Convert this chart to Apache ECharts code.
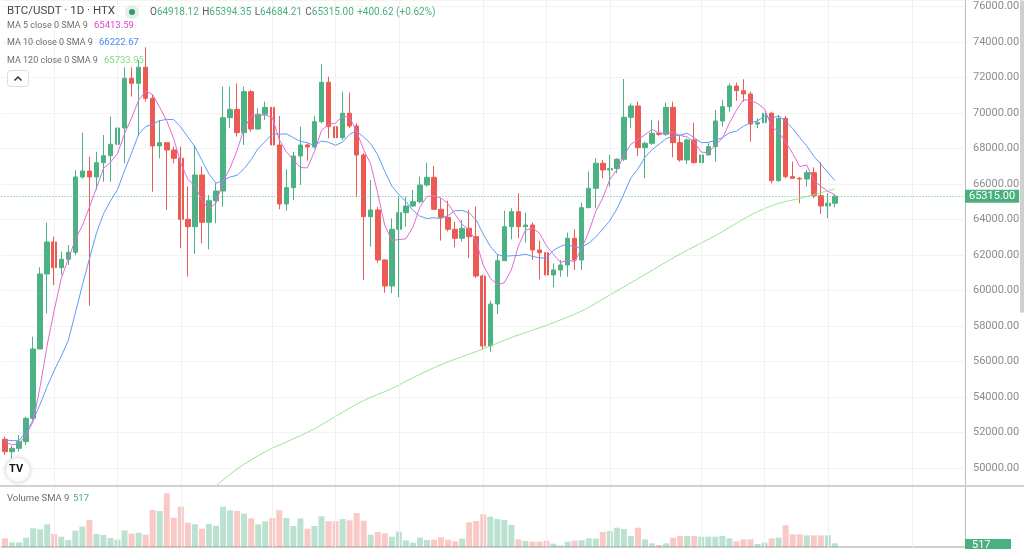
<!DOCTYPE html>
<html><head><meta charset="utf-8">
<script src="https://cdn.jsdelivr.net/npm/echarts@6/dist/echarts.min.js"></script>
<style>html,body{margin:0;padding:0;background:#fff;overflow:hidden}#c{width:1024px;height:549px}</style>
</head><body><div id="c"></div><script>
// ---- data (BTC/USDT 1D, HTX) ----
const startDate = [2024, 1, 23];           // first candle (Feb 23 2024)
const slotCount = 137;                     // candles + empty right margin slots
const opens = [51617,50918,51110,51482,52800,56705,60930,62733,61285,61758,
62152,66395,66733,66395,67200,67595,68237,69156,71955,71673,
72576,70829,68142,68330,67917,67449,64012,63595,66508,63842,
65060,65606,69736,70208,68891,71201,69100,69927,70320,68198,
64874,65792,67578,68198,68086,69512,71730,69229,68610,69986,
69269,67635,64158,64536,61719,60254,63448,64384,64761,65004,
65943,66378,64575,64124,63448,62941,63505,63033,60817,56874,
59240,61680,63595,64440,63595,63690,62283,62130,60874,61155,
61437,62941,61719,64666,65755,67167,66790,66870,67393,69760,
70396,68048,68293,68855,68800,70320,68330,67353,68480,67202,
67635,68104,69550,70358,71521,71257,71070,69380,69450,69986,
66189,69700,66414,66320,66282,66640,65342,64761,64918.12];
const highs = [51764,51240,51860,52890,57398,61308,63820,63030,62187,62564,
66790,68891,67540,67820,68760,69794,69794,72576,72576,72990,
73703,71014,69606,68330,68100,68100,65849,68198,66978,65380,
66040,71483,71483,71670,71483,71290,70265,70640,71336,69832,
66828,67820,69229,68290,69832,72745,72046,69420,71201,71160,
69420,67730,66226,64722,61750,64065,65324,65286,65662,66412,
67201,67014,65195,65060,63880,63975,64536,64722,60900,59425,
62057,64497,64630,65477,64384,63820,62810,63448,61530,61719,
63260,63448,64948,66700,67450,67350,67635,67450,71916,70547,
70640,68386,69606,69567,70584,70640,68761,68574,69455,67917,
68293,70170,70733,71670,71708,71898,71200,69700,70075,70075,
69887,69830,67257,66400,66790,66940,67223,65477,65394.35];
const lows = [50732,50546,50918,51296,52700,56705,58716,60310,60873,61437,
62000,66300,59145,65660,66130,66130,67240,67167,70920,68700,
70637,65567,67449,64536,67167,62378,60778,62057,62659,62320,
63786,64722,69138,68672,68198,68955,69042,69606,68100,64575,
64500,65100,65943,67310,68010,69420,68574,67540,68480,69138,
65286,60592,62470,61567,59876,59843,59617,63595,64700,64912,
65850,64536,62810,63335,62434,62752,61815,60700,56648,56550,
58676,61680,62885,62941,62697,61719,60630,60780,60180,60780,
60780,61155,61155,64630,64630,66320,65850,66600,67300,69138,
67578,66320,68198,68705,68700,67505,67260,67130,67165,66640,
67635,67260,69230,70075,70690,70637,68385,69138,69229,66038,
66130,66320,66320,64910,65850,65195,64310,64068,64684.21];
const closes = [50918,51110,51482,52800,56705,60930,62733,61285,61758,62152,
66395,66733,66395,67200,67595,68237,69156,71955,71673,72576,
70829,68142,68330,67917,67449,64012,63595,66508,63842,65060,
65606,69736,70208,68891,71201,69100,69927,70320,68198,64874,
65792,67578,68198,68086,69512,71730,69229,68610,69986,69269,
67635,64158,64536,61719,60254,63448,64384,64761,65004,65943,
66378,64575,64124,63448,62941,63505,63033,60817,56874,59240,
61680,63595,64440,63595,63690,62283,62130,60874,61155,61437,
62941,61719,64666,65755,67167,66790,66870,67393,69760,70396,
68048,68293,68855,68800,70320,68330,67353,68480,67202,67635,
68104,69550,70358,71521,71257,71070,69380,69450,69986,66189,
69700,66414,66320,66282,66640,65342,64761,64918.12,65315.00];
const volumes = [348,188,188,372,748,708,908,520,412,280,
652,812,1080,520,480,360,292,668,532,572,
492,1480,1440,2148,1172,1612,972,908,732,920,
852,1612,1468,1440,1332,1148,908,1028,1160,1468,
1160,840,1148,732,840,1228,1028,1028,1120,1068,
1360,1052,492,600,548,412,612,268,172,372,
280,292,388,292,228,332,988,1040,1308,1212,
1120,1080,880,308,240,212,212,252,132,60,
212,252,268,348,332,600,640,772,720,440,
772,308,148,80,148,372,440,440,440,412,
412,412,440,348,228,308,308,120,172,348,
372,868,508,508,468,468,468,468,148];
const ma5Read  = [51482,51296,51390,51860];
const ma10Read = [51577,51540,51540,52047,52700,53600,54600,55500,56300];
// MA 120 (history off-screen) at these candle indices
const ma120Idx = [30,33,37,40,44,48,51,55,58,62,65,68,72,77,82,86,91,96,101,105,107,110,113,116,118];
const ma120Val = [48986,49944,50918,51465,52209,53138,53803,54479,55088,55825,56276,56705,57352,58040,58845,59747,60902,62057,63088,64023,64446,64908,65189,65511,65733.95];
// header texts
const header = {sym:'BTC/USDT · 1D · HTX', o:'64918.12', h:'65394.35', l:'64684.21', c:'65315.00', chg:'+400.62 (+0.62%)'};
const legendLabels = ['MA 5 close 0 SMA 9','MA 10 close 0 SMA 9','MA 120 close 0 SMA 9'];
const legendValues = ['65413.59','66222.67','65733.95'];
const volLabel = 'Volume SMA 9', volSma = '517';
const gridDays = ['01','10','19'];

// ---- build ----
const pad = n => (n<10?'0':'')+n;
const dates = [];
for (let i=0;i<slotCount;i++){const d=new Date(Date.UTC(startDate[0],startDate[1],startDate[2]+i));dates.push(d.getUTCFullYear()+'-'+pad(d.getUTCMonth()+1)+'-'+pad(d.getUTCDate()));}
const n = closes.length;
const ohlc = closes.map((c,i)=>[opens[i],c,lows[i],highs[i]]);
function sma(len, early){return closes.map((c,i)=>{if(i<len-1) return early[i]; let s=0; for(let k=i-len+1;k<=i;k++) s+=closes[k]; return +(s/len).toFixed(2);});}
const ma5 = sma(5, ma5Read), ma10 = sma(10, ma10Read);
const ma120 = ma120Idx.map((k,j)=>[dates[k], ma120Val[j]]);
const UP='#4db283', DOWN='#ec5b53';
const volData = volumes.map((v,i)=>({value:v,itemStyle:{color: closes[i]>=opens[i] ? 'rgba(77,178,131,0.38)' : 'rgba(236,91,83,0.33)'}}));
const vLines = dates.filter(d=>gridDays.includes(d.slice(8))).map(d=>({xAxis:d}));
const FONT = 'Roboto, "Noto Sans", sans-serif';
const GRAY = '#6d6d6d', GREEN='#4caf7f';
const maColors = ['#de44c8','#4b89f2','#7fdc7f'];
const valueLeft = [94,99,104], rowTop = [21,38,56];

const chart = echarts.init(document.getElementById('c'), null, {renderer:'canvas'});
const emptyLine = dates.map(()=>null);
const legendGraphics = [];
legendLabels.forEach((t,i)=>{
  legendGraphics.push({type:'text',left:7,top:rowTop[i],z:20,style:{text:t,fill:GRAY,fontSize:9,fontFamily:FONT}});
  legendGraphics.push({type:'text',left:valueLeft[i],top:rowTop[i],z:20,style:{text:legendValues[i],fill:maColors[i],fontSize:9.5,fontFamily:FONT}});
});
chart.setOption({
  animation:false,
  backgroundColor:'#ffffff',
  textStyle:{fontFamily:FONT},
  grid:[{left:1.5,right:59,top:0,height:486},{left:1.5,right:59,top:486,height:61}],
  xAxis:[
    {type:'category',gridIndex:0,data:dates,boundaryGap:true,axisLine:{show:false},axisTick:{show:false},axisLabel:{show:false},splitLine:{show:false}},
    {type:'category',gridIndex:1,data:dates,boundaryGap:true,axisLine:{show:true,lineStyle:{color:'#cfcfcf',width:2}},axisTick:{show:false},axisLabel:{show:false},splitLine:{show:false}}
  ],
  yAxis:[
    {type:'value',gridIndex:0,position:'right',min:48986,max:76366,splitNumber:14,minInterval:2000,maxInterval:2000,scale:true,
     axisLine:{show:true,lineStyle:{color:'#bdbdbd'}},axisTick:{show:false},
     axisLabel:{color:'#8c8c8c',fontSize:11,margin:8,showMinLabel:false,showMaxLabel:false,formatter:v=>v.toFixed(2),fontFamily:FONT},
     splitLine:{show:true,lineStyle:{color:'#f3f3f3'}}},
    {type:'value',gridIndex:1,position:'right',min:0,max:2440,axisLine:{show:true,lineStyle:{color:'#bdbdbd'}},axisTick:{show:false},axisLabel:{show:false},splitLine:{show:false}}
  ],
  series:[
    {type:'line',xAxisIndex:0,yAxisIndex:0,data:emptyLine,z:1,silent:true,symbol:'none',
     markLine:{silent:true,symbol:'none',label:{show:false},lineStyle:{color:'#f1f1f3',type:'solid',width:1},data:vLines,animation:false}},
    {type:'line',xAxisIndex:1,yAxisIndex:1,data:emptyLine,z:1,silent:true,symbol:'none',
     markLine:{silent:true,symbol:'none',label:{show:false},lineStyle:{color:'#f1f1f3',type:'solid',width:1},data:vLines,animation:false}},
    {type:'bar',xAxisIndex:1,yAxisIndex:1,data:volData,barWidth:6,z:2,silent:true},
    {type:'candlestick',xAxisIndex:0,yAxisIndex:0,data:ohlc,barWidth:5,z:3,
     itemStyle:{color:UP,color0:DOWN,borderColor:UP,borderColor0:DOWN,borderWidth:1},
     markLine:{silent:true,symbol:'none',animation:false,
       data:[{yAxis:closes[n-1],lineStyle:{color:'#5cbf90',type:[1,2],width:1},
         label:{show:true,position:'end',distance:0,formatter:()=>closes[n-1].toFixed(2),color:'#fff',backgroundColor:GREEN,
           padding:[1,4,1,4],fontSize:11,fontFamily:FONT}}]}},
    {type:'line',xAxisIndex:0,yAxisIndex:0,data:ma120,symbol:'none',smooth:0.3,connectNulls:true,z:4,lineStyle:{color:'#98e498',width:1},silent:true},
    {type:'line',xAxisIndex:0,yAxisIndex:0,data:ma10,symbol:'none',z:5,lineStyle:{color:'#5f9cf6',width:1},silent:true},
    {type:'line',xAxisIndex:0,yAxisIndex:0,data:ma5,symbol:'none',z:6,lineStyle:{color:'#e46ad6',width:1},silent:true}
  ],
  graphic:[
    {type:'text',left:7,top:5,z:20,style:{text:header.sym,fontSize:11.5,fill:'#464646',fontFamily:FONT}},
    {type:'circle',shape:{cx:132,cy:12,r:7},style:{fill:'#dff1e8'},z:20},
    {type:'circle',shape:{cx:132,cy:12,r:3},style:{fill:'#2e9b6a'},z:21},
    {type:'text',left:150,top:6,z:20,style:{
      text:'{l|O}{v|'+header.o+'} {l|H}{v|'+header.h+'} {l|L}{v|'+header.l+'} {l|C}{v|'+header.c+'} {v|'+header.chg+'}',
      rich:{l:{fill:'#5a5a5a',fontSize:10,fontFamily:FONT},v:{fill:GREEN,fontSize:10,fontFamily:FONT}}}},
    ...legendGraphics,
    {type:'rect',shape:{x:7.5,y:70.5,width:21,height:16,r:3},style:{fill:'#fff',stroke:'#dedede',lineWidth:1},z:20},
    {type:'polyline',shape:{points:[[14.5,80.5],[18,77],[21.5,80.5]]},style:{stroke:'#333',lineWidth:1.5,fill:null},z:21},
    {type:'circle',shape:{cx:18,cy:470,r:12.5},style:{fill:'#fff',stroke:'#e6e6e6',lineWidth:1,shadowBlur:4,shadowColor:'rgba(0,0,0,0.12)'},z:20},
    {type:'text',left:9,top:464,z:21,style:{text:'TV',fontSize:11,fontWeight:'bold',fill:'#131722',fontFamily:FONT}},
    {type:'line',shape:{x1:0,y1:486,x2:1024,y2:486},style:{stroke:'#d2d2d2',lineWidth:2},z:15},
    {type:'text',left:7,top:494,z:20,style:{text:volLabel,fill:GRAY,fontSize:9.5,fontFamily:FONT}},
    {type:'text',left:73,top:494,z:20,style:{text:volSma,fill:GREEN,fontSize:9.5,fontFamily:FONT}},
    {type:'rect',shape:{x:1020,y:0,width:4,height:313,r:2},style:{fill:'#cfcfcf'},z:20},
    {type:'rect',shape:{x:965,y:539,width:46,height:14},style:{fill:GREEN},z:20},
    {type:'text',left:972,top:540,z:21,style:{text:volSma,fontSize:11,fill:'#fff',fontFamily:FONT}}
  ]
});
</script></body></html>
